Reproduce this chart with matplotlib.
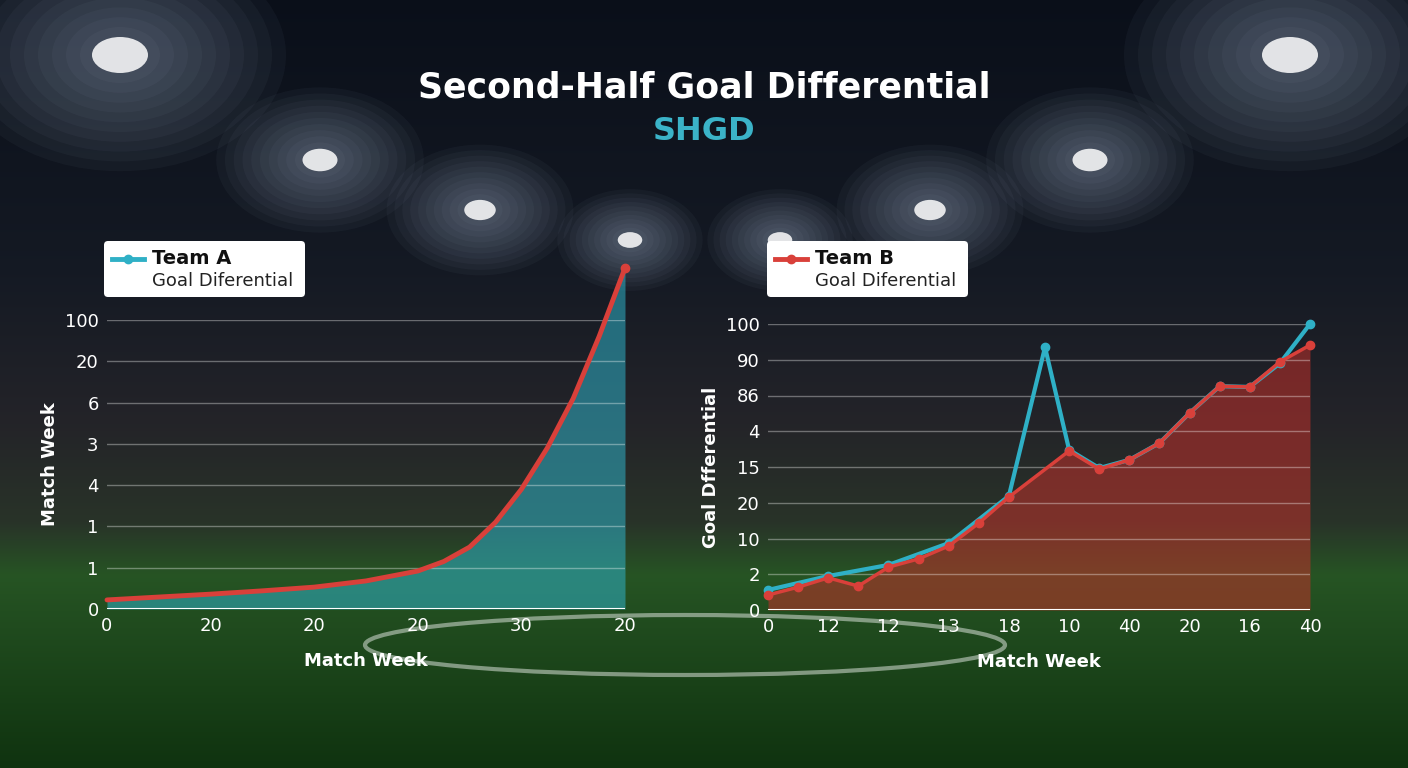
import numpy as np
import matplotlib.pyplot as plt
from matplotlib.patches import Ellipse, FancyBboxPatch
from matplotlib.lines import Line2D

title = "Second-Half Goal Differential"
subtitle = "SHGD"
left_yticklabels = ["0", "1", "1", "4", "3", "6", "20", "100"]
left_xticklabels = ["0", "20", "20", "20", "30", "20"]
left_x = [0, 0.5, 1, 1.5, 2, 2.5, 3, 3.25, 3.5, 3.75, 4, 4.25, 4.5, 4.75, 5]
left_y = [0.22, 0.29, 0.36, 0.44, 0.53, 0.68, 0.92, 1.15, 1.5, 2.1, 2.9, 3.9, 5.1, 6.6, 8.26]

right_yticklabels = ["0", "2", "10", "20", "15", "4", "86", "90", "100"]
right_xticklabels = ["0", "12", "12", "13", "18", "10", "40", "20", "16", "40"]
teal_x = [0, 2, 4, 6, 8, 9.2, 10, 11, 12, 13, 14, 15, 16, 17, 18]
teal_y = [0.56, 0.95, 1.26, 1.87, 3.19, 7.35, 4.48, 3.97, 4.2, 4.67, 5.51, 6.26, 6.24, 6.9, 8.0]
red_x = [0, 1, 2, 3, 4, 5, 6, 7, 8, 10, 11, 12, 13, 14, 15, 16, 17, 18]
red_y = [0.42, 0.64, 0.9, 0.67, 1.2, 1.43, 1.79, 2.43, 3.16, 4.45, 3.94, 4.2, 4.67, 5.51, 6.26, 6.24, 6.94, 7.41]

W, H = 1408, 768
fig = plt.figure(figsize=(W/100, H/100), dpi=100)

bg = fig.add_axes([0, 0, 1, 1]); bg.set_xlim(0, W); bg.set_ylim(H, 0); bg.axis('off')
stops = [(0.0, (0.04, 0.06, 0.10)), (0.35, (0.08, 0.10, 0.14)), (0.55, (0.14, 0.14, 0.16)),
         (0.68, (0.16, 0.20, 0.16)), (0.75, (0.15, 0.33, 0.14)), (1.0, (0.06, 0.20, 0.06))]
ts = np.linspace(0, 1, 400)
grad = np.zeros((400, 1, 3))
for ch in range(3):
    grad[:, 0, ch] = np.interp(ts, [s[0] for s in stops], [s[1][ch] for s in stops])
bg.imshow(grad, extent=[0, W, H, 0], aspect='auto')
for (x, y, r) in [(120, 55, 80), (1290, 55, 80), (320, 160, 50), (1090, 160, 50), (480, 210, 45), (930, 210, 45), (630, 240, 35), (780, 240, 35)]:
    for k in range(10):
        s = 1 + k * 0.35
        bg.add_patch(Ellipse((x, y), r*s, r*0.7*s, color='#cfe3ff', alpha=0.035, lw=0))
    bg.add_patch(Ellipse((x, y), r*0.7, r*0.45, color='white', alpha=0.85, lw=0))
bg.add_patch(Ellipse((685, 645), 640, 60, fill=False, ec='#d8e0d8', lw=3, alpha=0.55))

fig.text(0.5, 1 - 88/H, title, ha='center', va='center', color='white', fontsize=25, fontweight='bold')
fig.text(0.5, 1 - 132/H, subtitle, ha='center', va='center', color='#3bb3c8', fontsize=23, fontweight='bold')

TEAL = '#2fb0c6'; RED = '#d9403a'

def style(ax, yl):
    ax.set_facecolor('none')
    for s in ax.spines.values(): s.set_visible(False)
    ax.tick_params(colors='white', labelsize=13, length=0, pad=6)
    ax.grid(axis='y', color='white', alpha=0.35, lw=1)
    ax.set_yticks(range(len(yl))); ax.set_yticklabels(yl)

axL = fig.add_axes([107/W, 1 - 609/H, (625-107)/W, (609-320)/H])
style(axL, left_yticklabels)
axL.set_xticks(range(len(left_xticklabels))); axL.set_xticklabels(left_xticklabels)
axL.set_xlim(0, 5); axL.set_ylim(0, 7)
axL.fill_between(left_x, left_y, 0, color=TEAL, alpha=0.55, lw=0, clip_on=False)
axL.plot(left_x, left_y, color=RED, lw=3.5, clip_on=False, solid_capstyle='round')
axL.plot(left_x[-1], left_y[-1], 'o', color=RED, ms=6, clip_on=False)
axL.axhline(0, color='white', lw=1.5)
axL.set_ylabel("Match Week", color='white', fontsize=13, fontweight='bold', labelpad=4)
axL.set_xlabel("Match Week", color='white', fontsize=13, fontweight='bold', labelpad=12)

axR = fig.add_axes([768/W, 1 - 610/H, (1310-768)/W, (610-324)/H])
style(axR, right_yticklabels)
axR.set_xticks(np.arange(0, 19, 2)); axR.set_xticklabels(right_xticklabels)
axR.set_xlim(0, 18); axR.set_ylim(0, 8)
axR.fill_between(red_x, red_y, 0, color='#c0302a', alpha=0.55, lw=0)
axR.plot(teal_x, teal_y, color=TEAL, lw=3, marker='o', ms=6, clip_on=False)
axR.plot(red_x, red_y, color=RED, lw=2.5, marker='o', ms=6, clip_on=False)
axR.axhline(0, color='white', lw=1.5)
axR.set_ylabel("Goal Dfferential", color='white', fontsize=13, fontweight='bold', labelpad=4)
axR.set_xlabel("Match Week", color='white', fontsize=13, fontweight='bold', labelpad=12)

for (x0, col, name) in [(104, TEAL, "Team A"), (767, RED, "Team B")]:
    bg.add_patch(FancyBboxPatch((x0, 241), 201, 56, boxstyle="round,pad=0,rounding_size=4", fc='white', ec='none'))
    bg.add_line(Line2D([x0+8, x0+40], [259, 259], color=col, lw=3.5))
    bg.plot(x0+24, 259, 'o', color=col, ms=6)
    bg.text(x0+48, 259, name, va='center', fontsize=14, fontweight='bold', color='#111111')
    bg.text(x0+48, 281, "Goal Diferential", va='center', fontsize=13, color='#222222')

fig.savefig('out.png', dpi=100)
